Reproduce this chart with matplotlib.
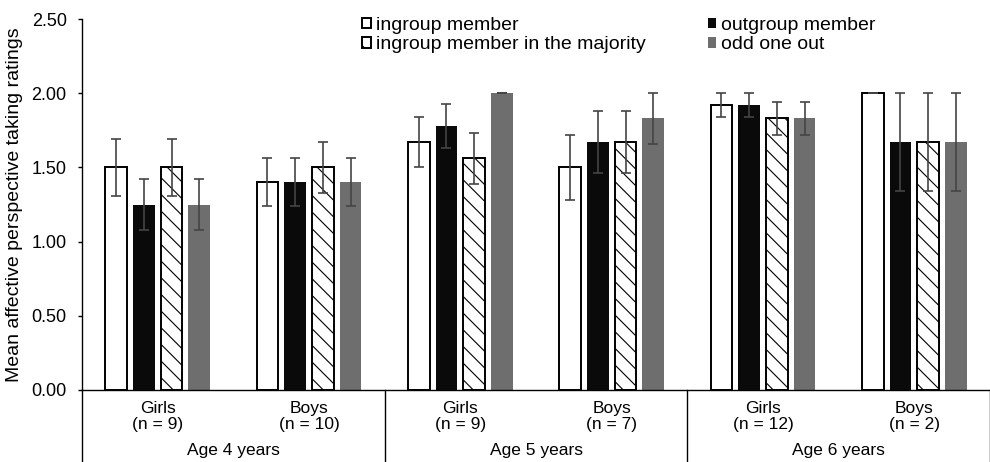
import numpy as np
import matplotlib
matplotlib.use('Agg')
import matplotlib.pyplot as plt
from matplotlib.transforms import blended_transform_factory

plt.rcParams['font.family'] = ['Liberation Sans', 'DejaVu Sans']
plt.rcParams['hatch.linewidth'] = 0.8

# subgroups (gender within age) and age groups
subgroups = ['Girls\n(n = 9)', 'Boys\n(n = 10)', 'Girls\n(n = 9)', 'Boys\n(n = 7)',
             'Girls\n(n = 12)', 'Boys\n(n = 2)']
ages = ['Age 4 years', 'Age 5 years', 'Age 6 years']

ingroup = [1.50, 1.40, 1.67, 1.50, 1.92, 2.00]
ingroup_err = [0.19, 0.16, 0.17, 0.22, 0.08, 0.00]
outgroup = [1.25, 1.40, 1.78, 1.67, 1.92, 1.67]
outgroup_err = [0.17, 0.16, 0.15, 0.21, 0.08, 0.33]
majority = [1.50, 1.50, 1.56, 1.67, 1.83, 1.67]
majority_err = [0.19, 0.17, 0.17, 0.21, 0.11, 0.33]
oddout = [1.25, 1.40, 2.00, 1.83, 1.83, 1.67]
oddout_err = [0.17, 0.16, 0.00, 0.17, 0.11, 0.33]

fig = plt.figure(figsize=(9.9, 4.62), dpi=100)
ax = fig.add_axes([82 / 990, 72 / 462, 908 / 990, 371 / 462])

x = np.arange(len(subgroups)) + 0.5
pitch = 0.183
width = 0.142
err_kw = dict(ecolor='#444444', elinewidth=1.2, capsize=3.5, capthick=1.2)

b1 = ax.bar(x - 1.5 * pitch, ingroup, width, yerr=ingroup_err, color='white',
            edgecolor='black', linewidth=1.4, error_kw=err_kw, label='ingroup member')
b2 = ax.bar(x - 0.5 * pitch, outgroup, width, yerr=outgroup_err, color='#0a0a0a',
            edgecolor='#0a0a0a', linewidth=0, error_kw=err_kw, label='outgroup member')
b3 = ax.bar(x + 0.5 * pitch, majority, width, yerr=majority_err, color='white',
            edgecolor='black', linewidth=1.4, hatch='\\\\', error_kw=err_kw,
            label='ingroup member in the majority')
b4 = ax.bar(x + 1.5 * pitch, oddout, width, yerr=oddout_err, color='#6e6e6e',
            linewidth=0, error_kw=err_kw, label='odd one out')

ax.set_xlim(0, len(subgroups))
ax.set_ylim(0, 2.5)
ax.set_yticks(np.arange(0, 2.51, 0.5))
ax.set_yticklabels(['%.2f' % v for v in np.arange(0, 2.51, 0.5)], fontsize=13)
ax.tick_params(axis='y', length=3, width=1, pad=8)
ax.set_xticks(x)
ax.set_xticklabels(subgroups, fontsize=12.5, linespacing=1.1)
ax.tick_params(axis='x', length=0, pad=8)
ax.set_ylabel('Mean affective perspective taking ratings', fontsize=14, labelpad=6)

for s in ['top', 'right']:
    ax.spines[s].set_visible(False)
ax.spines['left'].set_linewidth(1.0)
ax.spines['bottom'].set_linewidth(1.0)

# group dividers below the axis
trans = blended_transform_factory(ax.transData, ax.transAxes)
for xv in [0, 2, 4, 6]:
    ax.plot([xv, xv], [0, -0.2], color='black', lw=1.0, transform=trans, clip_on=False)
for i, a in enumerate(ages):
    ax.text(2 * i + 1, -0.162, a, transform=trans, ha='center', va='center', fontsize=12.5)

leg = fig.legend(handles=[b1, b3, b2, b4], ncol=2, loc='upper left',
                 bbox_to_anchor=(362 / 990, 1 - 17 / 462), frameon=False, fontsize=14,
                 handlelength=0.45, handleheight=0.45, handletextpad=0.25,
                 columnspacing=3.2, labelspacing=0.12, borderpad=0, borderaxespad=0)

plt.savefig('out.png', dpi=100)
